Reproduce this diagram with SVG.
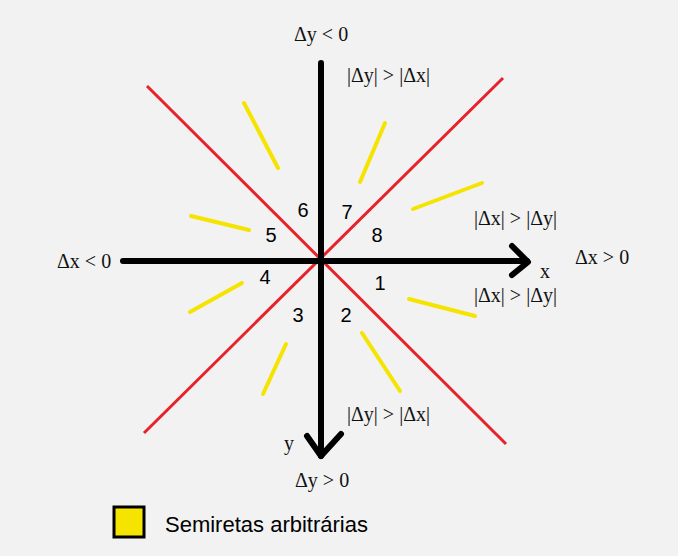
<svg xmlns="http://www.w3.org/2000/svg" width="678" height="556" viewBox="0 0 678 556">
<style>
.axis{stroke:#000;stroke-width:6;fill:none;stroke-linecap:round;stroke-linejoin:round}
.red{stroke:#e8222a;stroke-width:3;fill:none}
.yel{stroke:#f5e400;stroke-width:4;fill:none;stroke-linecap:round}
.num{font-family:"Liberation Sans",Arial,sans-serif;font-size:20px;fill:#000;text-anchor:middle}
.lbl{font-family:"Liberation Serif","Times New Roman",serif;font-size:20px;fill:#111}
.leg{font-family:"Liberation Sans",Arial,sans-serif;font-size:22px;fill:#000}
</style>
<rect width="678" height="556" fill="#f2f2f2"/>
<g id="connectors">
<line class="red" x1="147" y1="86" x2="506" y2="444"/>
<line class="red" x1="503" y1="78" x2="144" y2="433"/>
<line class="axis" x1="321" y1="63" x2="321" y2="456"/>
<polyline class="axis" points="307,436 321,456 341,434"/>
<line class="axis" x1="123" y1="261" x2="527" y2="261"/>
<polyline class="axis" points="512,246 528,262 512,275"/>
<g id="semiretas">
<line class="yel" x1="244" y1="103" x2="278" y2="168"/>
<line class="yel" x1="191" y1="216" x2="249" y2="230"/>
<line class="yel" x1="385" y1="123" x2="360" y2="182"/>
<line class="yel" x1="413" y1="209" x2="482" y2="183"/>
<line class="yel" x1="190" y1="312" x2="242" y2="283"/>
<line class="yel" x1="286" y1="344" x2="263" y2="394"/>
<line class="yel" x1="409" y1="299" x2="475" y2="316"/>
<line class="yel" x1="362" y1="333" x2="400" y2="391"/>
</g>
</g>
<g id="octants">
<text class="num" x="303" y="217">6</text>
<text class="num" x="347" y="219">7</text>
<text class="num" x="271" y="242">5</text>
<text class="num" x="377" y="242">8</text>
<text class="num" x="265" y="284">4</text>
<text class="num" x="380" y="290">1</text>
<text class="num" x="298" y="322">3</text>
<text class="num" x="346" y="322">2</text>
</g>
<g id="labels">
<text class="lbl" x="294" y="41">Δy &lt; 0</text>
<text class="lbl" x="347" y="82">|Δy| &gt; |Δx|</text>
<text class="lbl" x="474" y="225">|Δx| &gt; |Δy|</text>
<text class="lbl" x="575" y="264">Δx &gt; 0</text>
<text class="lbl" x="540" y="278">x</text>
<text class="lbl" x="474" y="302">|Δx| &gt; |Δy|</text>
<text class="lbl" x="57" y="268">Δx &lt; 0</text>
<text class="lbl" x="347" y="421">|Δy| &gt; |Δx|</text>
<text class="lbl" x="284" y="450">y</text>
<text class="lbl" x="295" y="487">Δy &gt; 0</text>
</g>
<g id="legend">
<rect x="114" y="507" width="30" height="30" fill="#f5e400" stroke="#000" stroke-width="3"/>
<text class="leg" x="165" y="532">Semiretas arbitrárias</text>
</g>
</svg>
